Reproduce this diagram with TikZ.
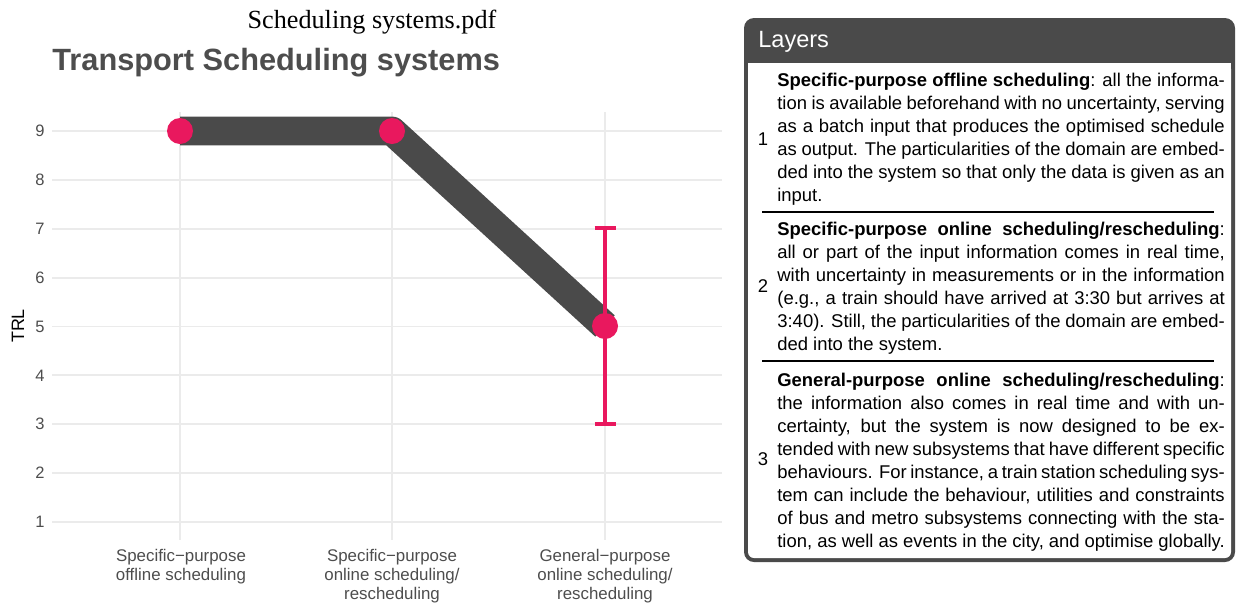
\documentclass[tikz,border=0pt]{standalone}
\usepackage{fontspec}
\setmainfont{Liberation Sans}
\newfontfamily\pdfserif{Liberation Serif}
\definecolor{trlpink}{RGB}{233,24,94}
\definecolor{chartdark}{RGB}{74,74,74}
\definecolor{gridgray}{RGB}{235,235,235}
\definecolor{tickgray}{RGB}{77,77,77}
\newcommand{\layerset}{\tolerance 10000 \hyphenpenalty 10000 \exhyphenpenalty 10000 }

\begin{document}
\begin{tikzpicture}[x=0.02cm,y=-0.02cm,
  grid/.style={draw=gridgray, line width=1.1pt},
  ticklab/.style={text=tickgray, inner sep=0pt, anchor=east, font=\fontsize{9.4}{11}\selectfont},
  catlab/.style={text=tickgray, inner sep=0pt, anchor=north, align=center, font=\fontsize{9.6}{10.8}\selectfont},
  dot/.style={circle, fill=trlpink, minimum size=0.52cm, inner sep=0pt},
  trend/.style={draw=chartdark, line width=16.4pt, line join=round},
  errbar/.style={draw=trlpink, line width=2.3pt},
  errcap/.style={draw=trlpink, line width=2.8pt},
  layer/.style={anchor=north west, inner sep=0pt, text width=8.95cm, align=justify,
    font=\fontsize{10.5}{13.1}\selectfont\layerset},
  num/.style={inner sep=0pt, font=\fontsize{10.5}{13.1}\selectfont}]
\useasboundingbox (0,0) rectangle (1237,603);

% chart grid
\foreach \v in {1,...,9}{
  \pgfmathsetmacro{\yy}{131+(9-\v)*48.875}
  \draw[grid] (52,\yy) -- (722,\yy);
  \node[ticklab] (t\v) at (45,\yy) {\v};
}
\foreach \xx in {180,392,605}
  \draw[grid] (\xx,112) -- (\xx,540);

\node[rotate=90, inner sep=0pt, font=\fontsize{10.2}{12}\selectfont] (trl) at (18,326) {TRL};

\node[inner sep=0pt, anchor=base, font=\pdfserif\fontsize{14.9}{17}\selectfont] (file) at (372,28) {Scheduling systems.pdf};
\node[inner sep=0pt, anchor=base west, text=tickgray, font=\bfseries\fontsize{17.5}{20}\selectfont] (title) at (52,70) {Transport Scheduling systems};

% data
\coordinate (a1) at (180,131);
\coordinate (a2) at (392,131);
\coordinate (a3) at (605,326);
\coordinate (e7) at (605,228);
\coordinate (e3) at (605,424);
\draw[trend] (a1) -- (a2) -- (a3);
\draw[errbar] (e7) -- (e3);
\draw[errcap] ([xshift=-0.21cm]e7) -- ([xshift=0.21cm]e7);
\draw[errcap] ([xshift=-0.21cm]e3) -- ([xshift=0.21cm]e3);
\node[dot] (p1) at (a1) {};
\node[dot] (p2) at (a2) {};
\node[dot] (p3) at (a3) {};

\node[catlab] (c1) at (181,549) {Specific−purpose\\offline scheduling};
\node[catlab] (c2) at (392,549) {Specific−purpose\\online scheduling/\\rescheduling};
\node[catlab] (c3) at (605,549) {General−purpose\\online scheduling/\\rescheduling};

% layers box
\fill[chartdark, rounded corners=0.2cm] (744,18) rectangle (1235,562);
\fill[white, rounded corners=0.12cm] (748,63) rectangle (1231,558);
\fill[white] (748,63) rectangle (1231,80);
\node[inner sep=0pt, anchor=base west, text=white, font=\fontsize{13.4}{16}\selectfont] (hdr) at (758,47) {Layers};

\node[num] (n1) at (763,139) {1};
\node[num] (n2) at (763,286) {2};
\node[num] (n3) at (763,459) {3};

\node[layer] (l1) at (777,73) {\textbf{Specific-purpose offline scheduling}: all the informa-\linebreak
tion is available beforehand with no uncertainty, serving\linebreak
as a batch input that produces the optimised schedule\linebreak
as output. The particularities of the domain are embed-\linebreak
ded into the system so that only the data is given as an\linebreak
input.};
\node[layer] (l2) at (777,222) {\textbf{Specific-purpose online scheduling/rescheduling}:\linebreak
all or part of the input information comes in real time,\linebreak
with uncertainty in measurements or in the information\linebreak
(e.g., a train should have arrived at 3:30 but arrives at\linebreak
3:40). Still, the particularities of the domain are embed-\linebreak
ded into the system.};
\node[layer] (l3) at (777,373) {\textbf{General-purpose online scheduling/rescheduling}:\linebreak
the information also comes in real time and with un-\linebreak
certainty, but the system is now designed to be ex-\linebreak
tended with new subsystems that have different specific\linebreak
behaviours. For instance, a train station scheduling sys-\linebreak
tem can include the behaviour, utilities and constraints\linebreak
of bus and metro subsystems connecting with the sta-\linebreak
tion, as well as events in the city, and optimise globally.};

\draw[line width=0.6pt] (762,212) -- (1214,212);
\draw[line width=0.6pt] (762,361) -- (1214,361);
\end{tikzpicture}
\end{document}
